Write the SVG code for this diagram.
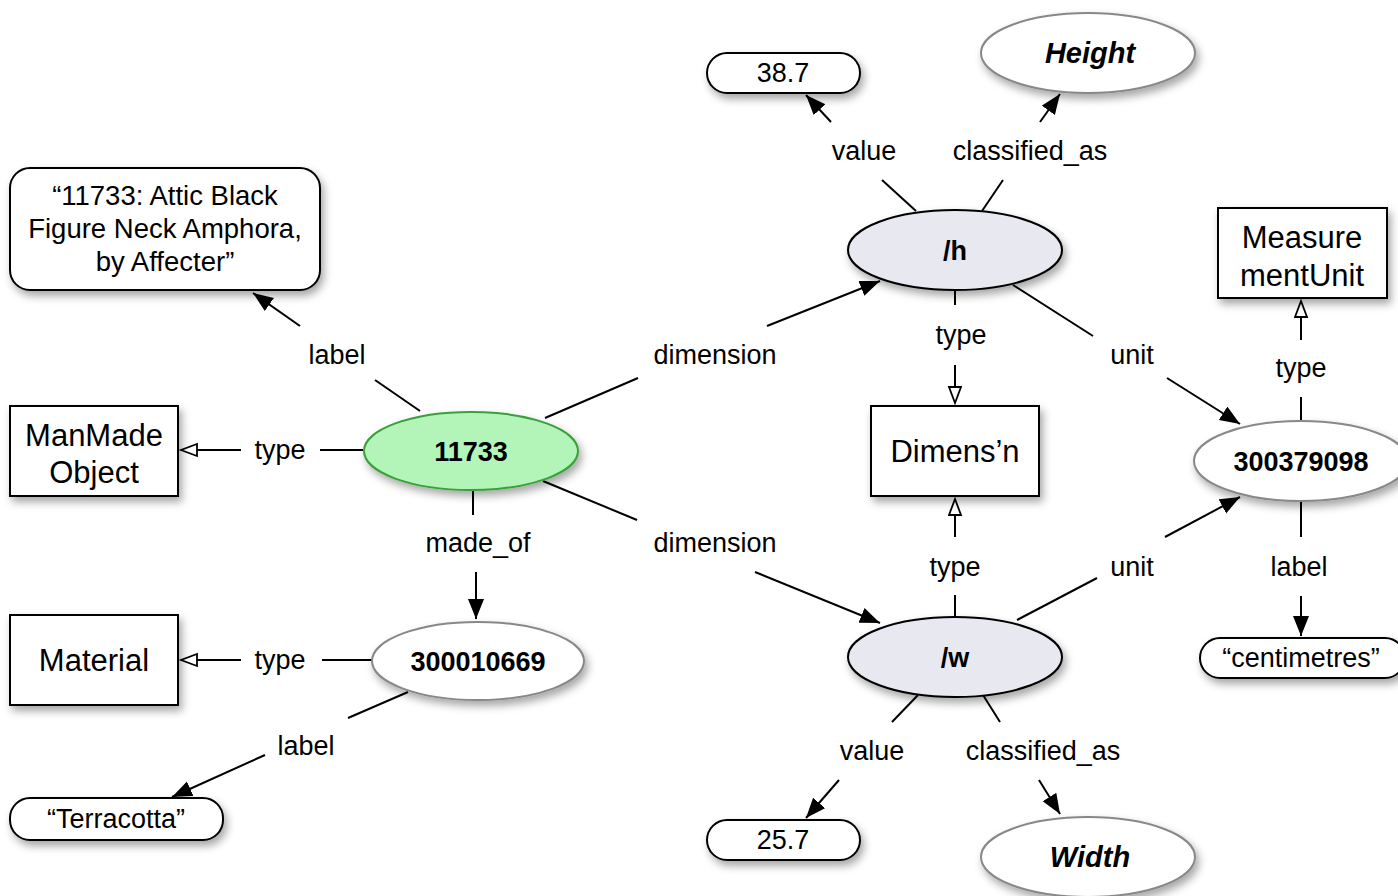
<svg xmlns="http://www.w3.org/2000/svg" width="1398" height="896" viewBox="0 0 1398 896">
<defs>
<filter id="sh" x="-20%" y="-20%" width="150%" height="160%"><feDropShadow dx="3" dy="5" stdDeviation="4" flood-color="#000" flood-opacity="0.35"/></filter>
<marker id="a" markerUnits="userSpaceOnUse" markerWidth="22" markerHeight="18" refX="20" refY="8" orient="auto"><path d="M0,0 L20,8 L0,16 z" fill="#000"/></marker>
<marker id="h" markerUnits="userSpaceOnUse" markerWidth="22" markerHeight="16" refX="17" refY="7" orient="auto"><path d="M1,1 L17,7 L1,13 z" fill="#fff" stroke="#000" stroke-width="1.8"/></marker>
</defs>
<style>
text{font-family:"Liberation Sans",Arial,sans-serif;fill:#000;text-anchor:middle}
.lb{font-size:27px}
.nt{font-size:31px}
.id{font-size:27px;font-weight:bold}
.bi{font-size:29px;font-weight:bold;font-style:italic}
.lt{font-size:27px}
.e line{stroke:#000;stroke-width:2;fill:none}
.ar{marker-end:url(#a)}
.ho{marker-end:url(#h)}
.box{fill:#fff;stroke:#000;stroke-width:2;filter:url(#sh)}
.gray{fill:#fff;stroke:#888;stroke-width:2;filter:url(#sh)}
.blue{fill:#e8e8f0;stroke:#000;stroke-width:2;filter:url(#sh)}
</style>
<rect width="1398" height="896" fill="#fff"/>
<g id="connectors" class="e">
<line x1="420" y1="411" x2="375" y2="380"/><line class="ar" x1="300" y1="326" x2="253" y2="293"/>
<line x1="363" y1="450" x2="320" y2="450"/><line class="ho" x1="241" y1="450" x2="181" y2="450"/>
<line x1="545" y1="418" x2="638" y2="378"/><line class="ar" x1="767" y1="326" x2="880" y2="281"/>
<line x1="543" y1="481" x2="637" y2="520"/><line class="ar" x1="755" y1="572" x2="880" y2="623"/>
<line x1="473" y1="490" x2="473" y2="515"/><line class="ar" x1="476" y1="572" x2="476" y2="619"/>
<line x1="372" y1="660" x2="322" y2="660"/><line class="ho" x1="241" y1="660" x2="181" y2="660"/>
<line x1="408" y1="692" x2="348" y2="718"/><line class="ar" x1="265" y1="755" x2="172" y2="797"/>
<line x1="916" y1="211" x2="882" y2="180"/><line class="ar" x1="831" y1="122" x2="806" y2="95"/>
<line x1="982" y1="211" x2="1003" y2="180"/><line class="ar" x1="1040" y1="122" x2="1060" y2="94"/>
<line x1="955" y1="290" x2="955" y2="305"/><line class="ho" x1="955" y1="365" x2="955" y2="403"/>
<line x1="1013" y1="285" x2="1093" y2="336"/><line class="ar" x1="1167" y1="378" x2="1240" y2="424"/>
<line x1="955" y1="617" x2="955" y2="595"/><line class="ho" x1="955" y1="537" x2="955" y2="499"/>
<line x1="1017" y1="620" x2="1097" y2="578"/><line class="ar" x1="1165" y1="537" x2="1240" y2="497"/>
<line x1="918" y1="695" x2="892" y2="722"/><line class="ar" x1="839" y1="780" x2="806" y2="818"/>
<line x1="983" y1="695" x2="1000" y2="722"/><line class="ar" x1="1039" y1="780" x2="1060" y2="814"/>
<line x1="1301" y1="421" x2="1301" y2="397"/><line class="ho" x1="1301" y1="340" x2="1301" y2="301"/>
<line x1="1301" y1="501" x2="1301" y2="537"/><line class="ar" x1="1301" y1="596" x2="1301" y2="636"/>
<text class="lb" x="337" y="364">label</text>
<text class="lb" x="280" y="459">type</text>
<text class="lb" x="715" y="364">dimension</text>
<text class="lb" x="715" y="552">dimension</text>
<text class="lb" x="478" y="552">made_of</text>
<text class="lb" x="280" y="669">type</text>
<text class="lb" x="306" y="755">label</text>
<text class="lb" x="864" y="160">value</text>
<text class="lb" x="1030" y="160">classified_as</text>
<text class="lb" x="961" y="344">type</text>
<text class="lb" x="1132" y="364">unit</text>
<text class="lb" x="955" y="576">type</text>
<text class="lb" x="1132" y="576">unit</text>
<text class="lb" x="872" y="760">value</text>
<text class="lb" x="1043" y="760">classified_as</text>
<text class="lb" x="1301" y="377">type</text>
<text class="lb" x="1299" y="576">label</text>
</g>
<g id="n-label11733"><rect class="box" x="10" y="168" width="310" height="122" rx="20"/>
<text class="lt" x="165" y="205" style="font-size:27.5px">“11733: Attic Black</text><text class="lt" x="165" y="238" style="font-size:27.5px">Figure Neck Amphora,</text><text class="lt" x="165" y="271" style="font-size:27.5px">by Affecter”</text></g>
<g id="n-manmade"><rect class="box" x="10" y="406" width="168" height="90"/>
<text class="nt" x="94" y="446">ManMade</text><text class="nt" x="94" y="483">Object</text></g>
<g id="n-11733"><ellipse cx="471" cy="451" rx="107" ry="39" fill="#b3f5b8" stroke="#3aa03a" stroke-width="2" filter="url(#sh)"/>
<text class="id" x="471" y="461">11733</text></g>
<g id="n-material"><rect class="box" x="10" y="615" width="168" height="90"/>
<text class="nt" x="94" y="671">Material</text></g>
<g id="n-300010669"><ellipse class="gray" cx="478" cy="661" rx="106" ry="39"/>
<text class="id" x="478" y="671">300010669</text></g>
<g id="n-terracotta"><rect class="box" x="10" y="798" width="213" height="42" rx="20"/>
<text class="lt" x="116" y="828">“Terracotta”</text></g>
<g id="n-h"><ellipse class="blue" cx="955" cy="250" rx="107" ry="40"/>
<text class="id" x="955" y="260">/h</text></g>
<g id="n-38"><rect class="box" x="707" y="53" width="153" height="40" rx="20"/>
<text class="lt" x="783" y="82">38.7</text></g>
<g id="n-height"><ellipse class="gray" cx="1088" cy="53" rx="107" ry="40"/>
<text class="bi" x="1090" y="63">Height</text></g>
<g id="n-dimension"><rect class="box" x="871" y="406" width="168" height="90"/>
<text class="nt" x="955" y="462">Dimens’n</text></g>
<g id="n-mu"><rect class="box" x="1218" y="208" width="169" height="90"/>
<text class="nt" x="1302" y="248">Measure</text><text class="nt" x="1302" y="286">mentUnit</text></g>
<g id="n-300379098"><ellipse class="gray" cx="1301" cy="461" rx="107" ry="40"/>
<text class="id" x="1301" y="471">300379098</text></g>
<g id="n-cm"><rect class="box" x="1200" y="638" width="205" height="40" rx="20"/>
<text class="lt" x="1301" y="667">“centimetres”</text></g>
<g id="n-w"><ellipse class="blue" cx="955" cy="657" rx="107" ry="40"/>
<text class="id" x="955" y="667">/w</text></g>
<g id="n-25"><rect class="box" x="707" y="820" width="153" height="40" rx="20"/>
<text class="lt" x="783" y="849">25.7</text></g>
<g id="n-width"><ellipse class="gray" cx="1088" cy="857" rx="107" ry="40"/>
<text class="bi" x="1090" y="867">Width</text></g>
</svg>
